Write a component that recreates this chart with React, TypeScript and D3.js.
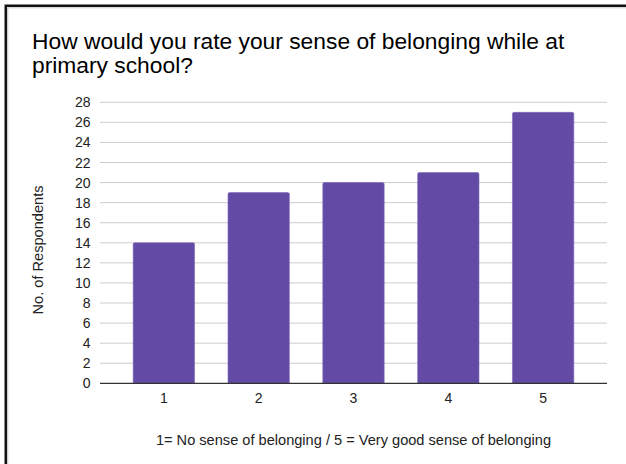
import React from "react";
import * as d3 from "d3";

// Survey answers: rating 1–5 and how many respondents chose each
const ratings = ["1", "2", "3", "4", "5"];
const respondents = [14, 19, 20, 21, 27];
const yTicks = [0, 2, 4, 6, 8, 10, 12, 14, 16, 18, 20, 22, 24, 26, 28];

const titleLines = [
  "How would you rate your sense of belonging while at",
  "primary school?",
];
const yAxisTitle = "No. of Respondents";
const xAxisTitle = "1= No sense of belonging / 5 = Very good sense of belonging";

const W = 626;
const H = 464;
const plot = { left: 100, right: 607, top: 102.3, bottom: 383.3 };
const FONT = "Arial, 'Liberation Sans', Helvetica, sans-serif";
const BAR = "#634AA5";

export default function App() {
  const x = d3
    .scaleBand<string>()
    .domain(ratings)
    .range([plot.left, plot.right])
    .paddingInner(0.353)
    .paddingOuter(0.35);
  const y = d3.scaleLinear().domain([0, 28]).range([plot.bottom, plot.top]);

  return (
    <svg
      width={W}
      height={H}
      style={{ position: "absolute", left: 0, top: 0, background: "#fff" }}
      fontFamily={FONT}
    >
      <rect width={W} height={H} fill="#fff" />
      {/* frame edges */}
      <path d={`M5.8,${H} V5.8 H${W}`} fill="none" stroke="#111" strokeWidth={2.6} />
      <path d={`M7.8,${H} V7.8 H${W}`} fill="none" stroke="#bbb" strokeWidth={0.8} />

      {titleLines.map((t, i) => (
        <text key={i} x={32} y={48.8 + i * 24} fontSize={22.8} fill="#000">
          {t}
        </text>
      ))}

      {/* gridlines and y labels */}
      {yTicks.map((t) => (
        <g key={t}>
          {t > 0 && (
            <line
              x1={plot.left}
              x2={plot.right}
              y1={y(t)}
              y2={y(t)}
              stroke="#cccccc"
              strokeWidth={1}
            />
          )}
          <text
            x={90.5}
            y={y(t)}
            dy="0.36em"
            textAnchor="end"
            fontSize={14}
            fill="#222"
          >
            {t}
          </text>
        </g>
      ))}

      {/* bars */}
      {ratings.map((r, i) => {
        const x0 = x(r) as number;
        const top = y(respondents[i]);
        const bw = x.bandwidth();
        const rr = 1.5;
        const d = `M${x0},${plot.bottom} V${top + rr} Q${x0},${top} ${x0 + rr},${top} H${x0 + bw - rr} Q${x0 + bw},${top} ${x0 + bw},${top + rr} V${plot.bottom} Z`;
        return <path key={r} d={d} fill={BAR} stroke="#7a66b8" strokeWidth={0.6} />;
      })}

      {/* baseline */}
      <line
        x1={plot.left}
        x2={plot.right}
        y1={plot.bottom}
        y2={plot.bottom}
        stroke="#333"
        strokeWidth={1.2}
      />

      {/* x labels */}
      {ratings.map((r) => (
        <text
          key={r}
          x={(x(r) as number) + x.bandwidth() / 2}
          y={403}
          textAnchor="middle"
          fontSize={14}
          fill="#222"
        >
          {r}
        </text>
      ))}

      <text
        x={(plot.left + plot.right) / 2}
        y={445}
        textAnchor="middle"
        fontSize={14.6}
        fill="#222"
      >
        {xAxisTitle}
      </text>

      <text
        transform={`translate(43, 250) rotate(-90)`}
        textAnchor="middle"
        fontSize={14.6}
        fill="#222"
      >
        {yAxisTitle}
      </text>
    </svg>
  );
}
